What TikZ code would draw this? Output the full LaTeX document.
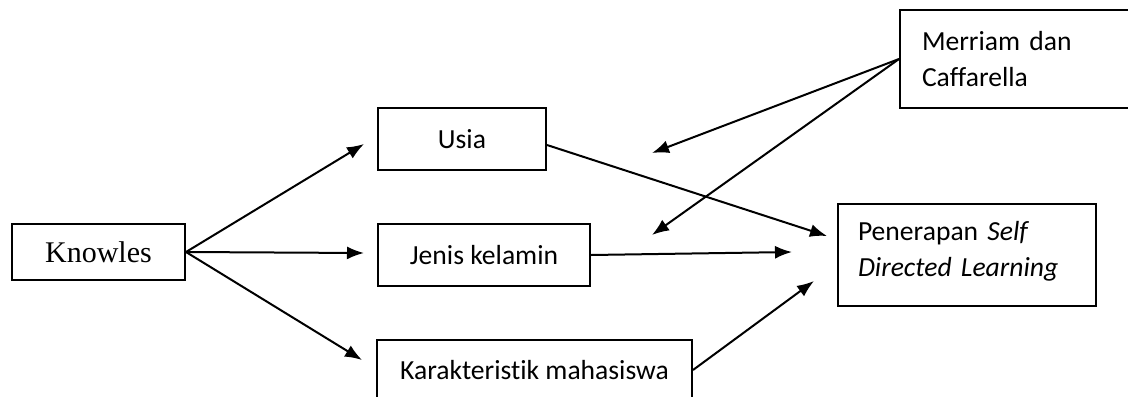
\documentclass[tikz,border=0pt]{standalone}
\usepackage{fontspec}
\setmainfont{Carlito}[Ligatures=NoCommon]
\newfontfamily\knowfont{Liberation Serif}
\usetikzlibrary{arrows.meta}

\tikzset{
  kotak/.style={draw, line width=1pt, inner sep=0pt, font=\fontsize{13.8}{18}\selectfont},
  panah/.style={line width=1pt, -{Latex[length=8.5pt,width=6.5pt]}}
}

\begin{document}
\begin{tikzpicture}[x=0.5pt,y=-0.5pt]
\useasboundingbox (0,0) rectangle (1128,396);

\node [kotak, minimum width=86.5pt, minimum height=28pt, font=\knowfont\fontsize{15}{18}\selectfont] (knowles) at (98.5,252) {Knowles};

\node [kotak, minimum width=84pt, minimum height=31pt] (usia) at (462,139) {Usia};
\node [kotak, minimum width=106pt, minimum height=31pt] (jenis) at (484,255) {Jenis kelamin};
\node [kotak, minimum width=157.5pt, minimum height=30pt] (karakter) at (534.5,370) {Karakteristik mahasiswa};

\node [kotak, inner xsep=11pt, text width=103pt, align=left, minimum height=49pt] (merriam) at (1025,59) {Merriam dan\\Caffarella};
\node [kotak, inner xsep=10pt, text width=109pt, align=left, minimum height=51pt] (penerapan) at (967,255) {Penerapan \textit{Self}\\\textit{Directed Learning}\\[-12pt]\mbox{}};

%%%%%%%%%%%%%%%%%%%%%%%%%%%%%%%%%%%%%%%%%%%%%%%%%%%%%%%%%%%%%%%%%%%%%%%%%%%%%%%%%%%
\coordinate (tUsia) at (364,144);
\coordinate (tJenis) at (364,253);
\coordinate (tKar) at (362,360);
\coordinate (tPen1) at (827,236);
\coordinate (tPen2) at (792,252);
\coordinate (tPen3) at (814,281);
\coordinate (tM1) at (652,153);
\coordinate (tM2) at (652,235);

\draw [panah] (knowles.east) -- (tUsia);
\draw [panah] (knowles.east) -- (tJenis);
\draw [panah] (knowles.east) -- (tKar);

\draw [panah] ([yshift=-3pt]usia.east) -- (tPen1);
\draw [panah] (jenis.east) -- (tPen2);
\draw [panah] (karakter.east) -- (tPen3);

\draw [panah] (merriam.west) -- (tM1);
\draw [panah] (merriam.west) -- (tM2);
%%%%%%%%%%%%%%%%%%%%%%%%%%%%%%%%%%%%%%%%%%%%%%%%%%%%%%%%%%%%%%%%%%%%%%%%%%%%%%%%%%%

\end{tikzpicture}
\end{document}
